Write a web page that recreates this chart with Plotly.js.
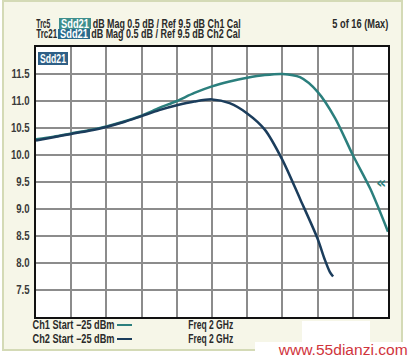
<!DOCTYPE html>
<html>
<head>
<meta charset="utf-8">
<script src="https://cdn.plot.ly/plotly-3.0.1.min.js"></script>
<style>
html,body{margin:0;padding:0;background:#ffffff;}
#chart{width:412px;height:359px;}
</style>
</head>
<body>
<div id="chart"></div>
<script>
// ---- data ----
const freqDivTrc5 = [0, 0.5, 1, 1.5, 2, 2.5, 3, 3.5, 4, 4.5, 5, 5.5, 6, 6.5, 7, 7.5, 8, 8.5, 9, 9.5, 10];
const sdd21Trc5   = [10.29, 10.34, 10.40, 10.46, 10.53, 10.62, 10.73, 10.87, 11.00, 11.15, 11.27, 11.36, 11.43, 11.48, 11.50, 11.44, 11.17, 10.68, 10.00, 9.37, 8.58];
const freqDivTrc21 = [0, 0.5, 1, 1.5, 2, 2.5, 3, 3.5, 4, 4.5, 5, 5.5, 6, 6.5, 7, 7.5, 8, 8.2, 8.35, 8.44];
const sdd21Trc21   = [10.27, 10.33, 10.39, 10.45, 10.52, 10.61, 10.72, 10.83, 10.92, 10.99, 11.03, 10.96, 10.77, 10.47, 9.91, 9.19, 8.45, 8.07, 7.83, 7.75];
const yTickVals = [7.5, 8.0, 8.5, 9.0, 9.5, 10.0, 10.5, 11.0, 11.5];
const yTickText = ["7.5", "8.0", "8.5", "9.0", "9.5", "10.0", "10.5", "11.0", "11.5"];
const refLevel = 9.5;
const headerLine1 = "dB Mag 0.5 dB / Ref 9.5 dB Ch1 Cal";
const headerLine2 = "dB Mag 0.5 dB / Ref 9.5 dB Ch2 Cal";
const traceName1 = "Trc5", traceName2 = "Trc21", paramName = "Sdd21";
const sweepInfo = "5 of 16 (Max)";
const ch1Text = "Ch1 Start \u221225 dBm", ch2Text = "Ch2 Start \u221225 dBm";
const freqText = "Freq 2 GHz";
const watermark = "www.55dianzi.com";

// ---- layout geometry (pixels) ----
const W = 412, H = 359;
const L = 36, R = 388, T = 47, B = 317;
const px = x => (x - L) / (R - L);
const py = y => (B - y) / (B - T);

const tealCol = "#2b7f7d";
const darkCol = "#1b3d5c";
const FONT = "Liberation Sans, Arial, sans-serif";

const traces = [
  {x: freqDivTrc5, y: sdd21Trc5, mode: "lines", line: {color: tealCol, width: 2.5, shape: "spline", smoothing: 0.8}, hoverinfo: "skip"},
  {x: freqDivTrc21, y: sdd21Trc21, mode: "lines", line: {color: darkCol, width: 2.5, shape: "spline", smoothing: 0.8}, hoverinfo: "skip"}
];

// annotation centred at (cx, cy) in pixels; w = rendered text width in pixels
const annWidths = [];
const annotations = [];
function txt(cx, cy, text, w, fontOpts) {
  annWidths.push(w);
  annotations.push({xref: "paper", yref: "paper", x: px(cx), y: py(cy), text: text, showarrow: false,
    xanchor: "center", yanchor: "middle", borderpad: 0,
    font: Object.assign({family: FONT, size: 12, color: "#2a2a2a", weight: "bold"}, fontOpts || {})});
}
const white = {color: "#ffffff"};

txt(43, 23.5, traceName1, 14);
txt(75, 23.5, paramName, 28, white);
txt(166, 23.5, headerLine1, 148);
txt(360, 23.5, sweepInfo, 56);
txt(46.5, 34, traceName2, 21);
txt(74, 34, paramName, 28, white);
txt(165.5, 34, headerLine2, 149);
txt(53, 58.5, paramName, 26, white);
txt(73, 325, ch1Text, 82);
txt(73, 339, ch2Text, 82);
txt(210.5, 325, freqText, 45);
txt(210.5, 339, freqText, 45);
txt(342, 349.5, watermark, 129, {size: 15.5, color: "#d0343c", weight: "normal"});
annWidths.push(null);
annotations.push({xref: "x", yref: "y", x: 10, y: refLevel, text: "\u00ab", showarrow: false, xanchor: "right", yanchor: "middle",
   font: {family: "DejaVu Sans", size: 16, color: tealCol, weight: "bold"}});

function box(x0, x1, y0, y1, fill) {
  return {type: "rect", xref: "paper", yref: "paper", x0: px(x0), x1: px(x1), y0: py(y1), y1: py(y0),
          fillcolor: fill, line: {width: 0}};
}

const shapes = [
  // cream frame
  {type: "rect", xref: "paper", yref: "paper", x0: px(3), x1: px(402), y0: py(1), y1: py(350),
   fillcolor: "#f6f6e8", line: {color: "#d4dab6", width: 2}, layer: "below"},
  // plot area white
  {type: "rect", xref: "paper", yref: "paper", x0: 0, x1: 1, y0: 0, y1: 1,
   fillcolor: "#ffffff", line: {width: 0}, layer: "below"},
  // parameter highlight boxes
  box(59, 91, 18, 29, "#3f8f8d"),
  box(58, 90, 29, 39, "#2a6a8c"),
  box(38, 68, 52, 65, "#2e5f86"),
  // legend line samples
  {type: "line", xref: "paper", yref: "paper", x0: px(117), x1: px(132), y0: py(325), y1: py(325), line: {color: tealCol, width: 2}},
  {type: "line", xref: "paper", yref: "paper", x0: px(117), x1: px(132), y0: py(339), y1: py(339), line: {color: darkCol, width: 2}},
  // watermark white boxes
  box(255, 412, 342, 359, "#ffffff"),
  box(302, 370, 321, 342, "#ffffff")
];

const layout = {
  width: W, height: H,
  margin: {l: L, r: W - R, t: T, b: H - B, pad: 0},
  paper_bgcolor: "#ffffff",
  plot_bgcolor: "rgba(0,0,0,0)",
  showlegend: false,
  xaxis: {range: [0, 10], dtick: 1, tick0: 0, showticklabels: false, ticks: "",
          showgrid: true, gridcolor: "#8c8c8c", gridwidth: 2, zeroline: false,
          showline: true, mirror: true, linecolor: "#111111", linewidth: 2, fixedrange: true},
  yaxis: {range: [7, 12], tickvals: yTickVals, ticktext: yTickText, ticks: "",
          showgrid: true, gridcolor: "#8c8c8c", gridwidth: 2, zeroline: false,
          showline: true, mirror: true, linecolor: "#111111", linewidth: 2, fixedrange: true,
          ticklabelstandoff: 2,
          tickfont: {family: FONT, size: 12, color: "#3a3a3a", weight: "bold"}},
  annotations: annotations,
  shapes: shapes
};

Plotly.newPlot("chart", traces, layout, {staticPlot: true, displayModeBar: false}).then(gd => {
  // condense texts to mimic the narrow instrument font
  gd.querySelectorAll("g.annotation").forEach(g => {
    const i = +g.getAttribute("data-index");
    const w = annWidths[i];
    const t = g.querySelector("text");
    if (w && t) {
      t.setAttribute("textLength", w);
      t.setAttribute("lengthAdjust", "spacingAndGlyphs");
    }
  });
  gd.querySelectorAll(".ytick text").forEach(t => {
    const len = t.getComputedTextLength();
    t.setAttribute("textLength", len * 0.8);
    t.setAttribute("lengthAdjust", "spacingAndGlyphs");
  });
});
</script>
</body>
</html>
